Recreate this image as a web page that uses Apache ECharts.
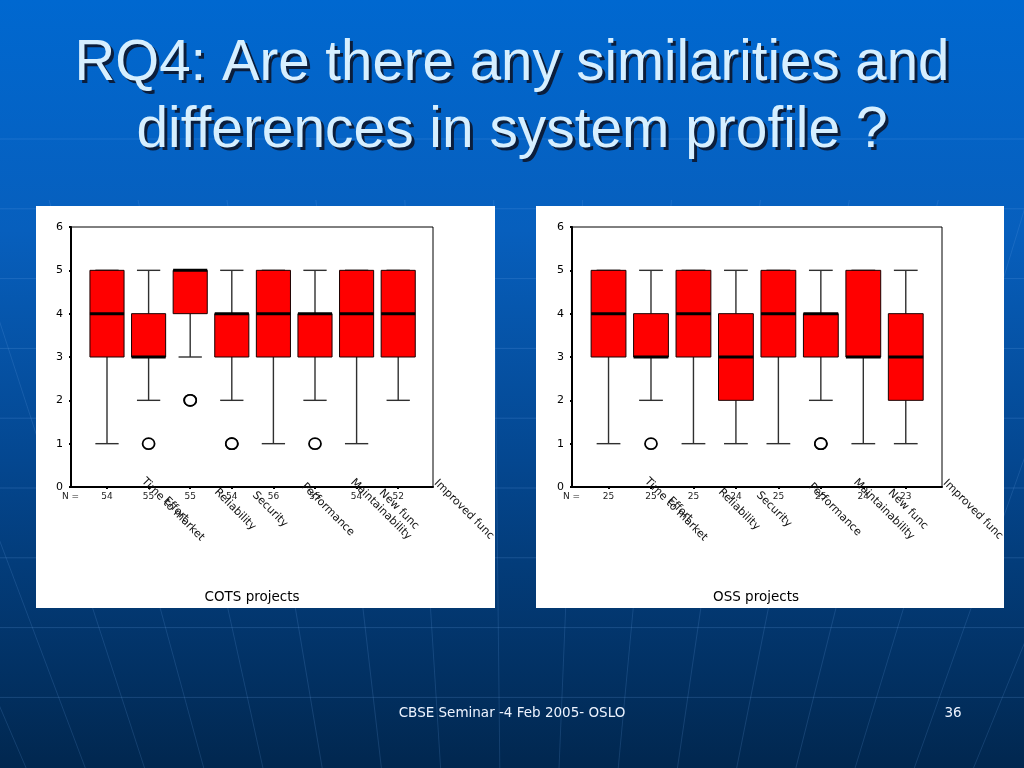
<!DOCTYPE html>
<html><head><meta charset="utf-8">
<script src="https://cdn.jsdelivr.net/npm/echarts@6/dist/echarts.min.js"></script>
<style>html,body{margin:0;padding:0;width:1024px;height:768px;overflow:hidden;background:#0a4f9e}#c{width:1024px;height:768px}</style>
</head><body><div id="c"></div>
<script>
// ---------------- data ----------------
const titleLines = ['RQ4: Are there any similarities and', 'differences in system profile ?'];
const categories = ['Time to market', 'Effort', 'Reliability', 'Security', 'Performance', 'Maintainability', 'New func', 'Improved func'];
const yTicks = [0, 1, 2, 3, 4, 5, 6];
// each box: [lower whisker, Q1, median, Q3, upper whisker]
const cotsBoxes = [[1,3,4,5,5],[2,3,3,4,5],[3,4,5,5,5],[2,3,4,4,5],[1,3,4,5,5],[2,3,4,4,5],[1,3,4,5,5],[2,3,4,5,5]];
const cotsOutliers = [[1,1],[2,2],[2,2],[3,1],[3,1],[5,1]]; // [category index, value]
const cotsN = [54,55,55,54,56,55,54,52];
const ossBoxes = [[1,3,4,5,5],[2,3,3,4,5],[1,3,4,5,5],[1,2,3,4,5],[1,3,4,5,5],[2,3,4,4,5],[1,3,3,5,5],[1,2,3,4,5]];
const ossOutliers = [[1,1],[5,1],[5,1]];
const ossN = [25,25,25,24,25,25,24,23];
const captions = ['COTS projects', 'OSS projects'];
const footerText = 'CBSE Seminar -4 Feb 2005- OSLO';
const pageNumber = '36';

// ---------------- layout ----------------
const panels = [
  { rect:[36,206,459,402], frame:{left:71, top:227, width:362, height:260}, box:{left:86.2, width:332.8},
    nX:62, labelCx:[137,140,199,234,292,345,363,428], capX:252,
    boxes:cotsBoxes, outliers:cotsOutliers, n:cotsN },
  { rect:[536,206,468,402], frame:{left:572, top:227, width:370, height:260}, box:{left:587.3, width:339.7},
    nX:563, labelCx:[140,144,203,238,299,348,372,437], capX:756,
    boxes:ossBoxes, outliers:ossOutliers, n:ossN }
];
const LABEL_FONT = 'DejaVu Sans';

function renderBox(params, api) {
  const i = api.value(0);
  const lo = api.coord([i, api.value(1)]);
  const q1 = api.coord([i, api.value(2)]);
  const md = api.coord([i, api.value(3)]);
  const q3 = api.coord([i, api.value(4)]);
  const hi = api.coord([i, api.value(5)]);
  const band = api.size([1, 0])[0];
  const bw = band * 0.82, cw = band * 0.56;
  const x = lo[0];
  const ws = { stroke:'#303030', lineWidth:1.4 };
  return { type:'group', children:[
    { type:'line', shape:{x1:x,y1:lo[1],x2:x,y2:q1[1]}, style:ws },
    { type:'line', shape:{x1:x,y1:q3[1],x2:x,y2:hi[1]}, style:ws },
    { type:'line', shape:{x1:x-cw/2,y1:lo[1],x2:x+cw/2,y2:lo[1]}, style:ws },
    { type:'line', shape:{x1:x-cw/2,y1:hi[1],x2:x+cw/2,y2:hi[1]}, style:ws },
    { type:'rect', shape:{x:x-bw/2,y:q3[1],width:bw,height:q1[1]-q3[1]}, style:{fill:'#ff0000', stroke:'#1a0000', lineWidth:1} },
    { type:'line', shape:{x1:x-bw/2,y1:md[1],x2:x+bw/2,y2:md[1]}, style:{stroke:'#000', lineWidth:3} }
  ]};
}

const grid = [], xAxis = [], yAxis = [], series = [], graphic = [];

// background
graphic.push({ type:'rect', z:-100, shape:{x:0,y:0,width:1024,height:768},
  style:{ fill:{ type:'linear', x:0, y:0, x2:0, y2:1, colorStops:[
    {offset:0, color:'#0068d0'}, {offset:0.3, color:'#075fbd'}, {offset:0.6, color:'#044790'}, {offset:1, color:'#01274f'}]}}});
// decorative faint background lines
for (let y = 139; y <= 700; y += 69.8) {
  graphic.push({ type:'line', z:-99, shape:{x1:0,y1:y,x2:1024,y2:y}, style:{stroke:'rgba(120,175,240,0.2)', lineWidth:1} });
}
for (let k = -8; k <= 8; k++) {
  const x600 = 498 + 68 * k;
  const cx = 512, cy = 1900;
  const yTop = 200;
  const x0 = cx + (x600 - cx) * ((yTop - cy) / (600 - cy));
  const x1 = cx + (x600 - cx) * ((768 - cy) / (600 - cy));
  graphic.push({ type:'line', z:-99, shape:{x1:x0,y1:yTop,x2:x1,y2:768},
    style:{stroke:'rgba(110,165,235,0.18)', lineWidth:1} });
}

panels.forEach((p, pi) => {
  graphic.push({ type:'rect', z:-98, shape:{x:p.rect[0], y:p.rect[1], width:p.rect[2], height:p.rect[3]}, style:{fill:'#ffffff'} });
  const gf = grid.length;
  grid.push({ left:p.frame.left, top:p.frame.top, width:p.frame.width, height:p.frame.height, show:true, borderColor:'#000', borderWidth:1, backgroundColor:'transparent' });
  grid.push({ left:p.box.left, top:p.frame.top, width:p.box.width, height:p.frame.height });
  xAxis.push({ gridIndex:gf, type:'value', min:0, max:1, axisLine:{show:true, lineStyle:{color:'#000', width:2}},
    axisTick:{show:false}, axisLabel:{show:false}, splitLine:{show:false} });
  xAxis.push({ gridIndex:gf+1, type:'category', data:categories, boundaryGap:true,
    axisLine:{show:false}, axisTick:{show:true, alignWithLabel:true, interval:0, length:2, lineStyle:{color:'#000', width:2}},
    axisLabel:{interval:0, margin:5, fontSize:9, color:'#222', fontFamily:LABEL_FONT, formatter:(v, i) => String(p.n[i])},
    splitLine:{show:false} });
  yAxis.push({ gridIndex:gf, type:'value', min:yTicks[0], max:yTicks[yTicks.length-1], interval:1,
    axisLine:{show:true, lineStyle:{color:'#000', width:2}}, axisTick:{show:true, length:2, lineStyle:{color:'#000', width:2}},
    axisLabel:{fontSize:11, color:'#000', margin:8, fontFamily:LABEL_FONT}, splitLine:{show:false} });
  yAxis.push({ gridIndex:gf+1, type:'value', min:yTicks[0], max:yTicks[yTicks.length-1], interval:1, show:false, splitLine:{show:false} });
  series.push({ type:'custom', xAxisIndex:gf+1, yAxisIndex:gf+1, renderItem:renderBox,
    encode:{x:0, y:[1,2,3,4,5]}, data:p.boxes.map((b, i) => [i].concat(b)), z:3, silent:true });
  series.push({ type:'scatter', xAxisIndex:gf+1, yAxisIndex:gf+1, symbol:'circle', symbolSize:[12,11],
    itemStyle:{color:'#fff', borderColor:'#000', borderWidth:1.7, opacity:1}, data:p.outliers, z:4, silent:true });
  graphic.push({ type:'text', z:50, x:p.nX, y:497, style:{text:'N =', fontSize:9, fontFamily:LABEL_FONT, fill:'#222', textAlign:'left', textVerticalAlign:'middle'} });
  categories.forEach((c, i) => {
    graphic.push({ type:'text', z:50, x:p.rect[0] + p.labelCx[i], y:509.5, rotation:-Math.PI/4,
      style:{text:c, fontSize:11, fontFamily:LABEL_FONT, fill:'#111', textAlign:'center', textVerticalAlign:'middle'} });
  });
  graphic.push({ type:'text', z:50, x:p.capX, y:597, style:{text:captions[pi], fontSize:13.5, fontFamily:LABEL_FONT, fill:'#000', textAlign:'center', textVerticalAlign:'middle'} });
});

// title
const ctx = document.createElement('canvas').getContext('2d');
const TITLE_FONT_SIZE = 58;
ctx.font = TITLE_FONT_SIZE + 'px "Liberation Sans"';
const titleTargets = [{w:875, y:64}, {w:751, y:131}];
titleLines.forEach((t, i) => {
  const s = titleTargets[i].w / ctx.measureText(t).width;
  const common = { fontSize:TITLE_FONT_SIZE, fontFamily:'Liberation Sans', textAlign:'center', textVerticalAlign:'middle', text:t };
  graphic.push({ type:'text', z:60, x:512 + 3, y:titleTargets[i].y + 3, scaleX:s, style:Object.assign({fill:'#0b1e3c'}, common) });
  graphic.push({ type:'text', z:61, x:512, y:titleTargets[i].y, scaleX:s, style:Object.assign({fill:'#d6efff'}, common) });
});
graphic.push({ type:'text', z:60, x:512, y:713, style:{text:footerText, fontSize:13.5, fontFamily:LABEL_FONT, fill:'#eef4ff', textAlign:'center', textVerticalAlign:'middle'} });
graphic.push({ type:'text', z:60, x:953, y:713, style:{text:pageNumber, fontSize:13.5, fontFamily:LABEL_FONT, fill:'#eef4ff', textAlign:'center', textVerticalAlign:'middle'} });

const chart = echarts.init(document.getElementById('c'), null, {renderer:'canvas'});
chart.setOption({ animation:false, grid, xAxis, yAxis, series, graphic });
</script></body></html>
